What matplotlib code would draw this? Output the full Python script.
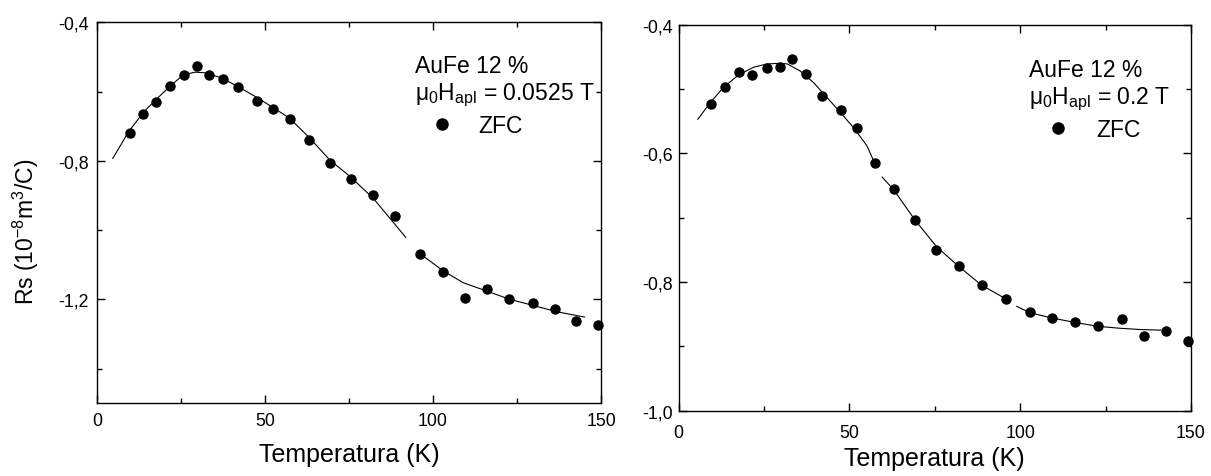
import matplotlib
matplotlib.use("Agg")
import matplotlib.pyplot as plt
from matplotlib.ticker import FixedLocator, FuncFormatter
from matplotlib.lines import Line2D

plt.rcParams['font.family'] = ['Liberation Sans', 'DejaVu Sans']
plt.rcParams['mathtext.fontset'] = 'custom'
plt.rcParams['mathtext.rm'] = 'Liberation Sans'
plt.rcParams['mathtext.it'] = 'Liberation Sans'
plt.rcParams['mathtext.bf'] = 'Liberation Sans:bold'

# ---------------- data: left panel (0.0525 T) ----------------
left_T = [9.7, 13.8, 17.7, 21.7, 25.9, 29.7, 33.3, 37.4, 42.0, 47.5, 52.3, 57.5, 63.2,
          69.4, 75.5, 82.0, 88.7, 96.1, 102.9, 109.4, 116.1, 122.7, 129.8, 136.2, 142.7, 149.1]
left_Rs = [-0.720, -0.666, -0.630, -0.585, -0.553, -0.527, -0.551, -0.564, -0.587, -0.628,
           -0.649, -0.678, -0.739, -0.806, -0.852, -0.900, -0.960, -1.070, -1.122, -1.196,
           -1.170, -1.200, -1.211, -1.229, -1.261, -1.275]
left_fit1_T = [4.7, 9.4, 13.9, 17.9, 21.8, 25.3, 27.3, 29.3, 32.2, 37.2, 42.2, 48.1, 55.1,
               57.4, 63.4, 69.3, 75.3, 82.2, 91.9]
left_fit1_Rs = [-0.793, -0.716, -0.659, -0.620, -0.584, -0.555, -0.548, -0.544, -0.546, -0.561,
                -0.587, -0.620, -0.663, -0.678, -0.735, -0.798, -0.845, -0.908, -1.021]
left_fit2_T = [96.1, 103.1, 109.0, 116.0, 122.9, 130.0, 137.0, 145.1]
left_fit2_Rs = [-1.068, -1.118, -1.152, -1.176, -1.200, -1.218, -1.236, -1.251]

# ---------------- data: right panel (0.2 T) ----------------
right_T = [9.5, 13.6, 17.6, 21.6, 25.8, 29.7, 33.3, 37.4, 41.9, 47.4, 52.3, 57.4, 63.1,
           69.2, 75.5, 82.1, 88.8, 96.0, 103.0, 109.3, 116.0, 122.7, 129.8, 136.2, 142.7, 149.2]
right_Rs = [-0.523, -0.497, -0.474, -0.478, -0.468, -0.466, -0.453, -0.477, -0.511, -0.532,
            -0.561, -0.615, -0.656, -0.703, -0.750, -0.776, -0.805, -0.827, -0.847, -0.856,
            -0.862, -0.868, -0.857, -0.884, -0.877, -0.892]
right_fit1_T = [5.6, 9.3, 13.2, 17.6, 22.0, 25.9, 29.8, 31.8, 35.6, 39.5, 43.4, 47.3, 51.2,
                55.1, 57.4]
right_fit1_Rs = [-0.547, -0.521, -0.497, -0.478, -0.466, -0.461, -0.460, -0.461, -0.472,
                 -0.490, -0.513, -0.536, -0.560, -0.588, -0.615]
right_fit2_T = [59.6, 63.0, 69.1, 75.5, 81.8, 88.7, 96.0]
right_fit2_Rs = [-0.637, -0.657, -0.703, -0.745, -0.775, -0.805, -0.827]
right_fit3_T = [99.0, 102.9, 109.2, 116.0, 122.7, 129.0, 135.0, 141.2]
right_fit3_Rs = [-0.838, -0.848, -0.856, -0.863, -0.869, -0.872, -0.874, -0.875]

x_major = [0, 50, 100, 150]
x_minor = [25, 75, 125]
left_y_major = [-0.4, -0.8, -1.2]
left_y_minor = [-0.6, -1.0, -1.4]
right_y_major = [-0.4, -0.6, -0.8, -1.0]
right_y_minor = [-0.5, -0.7, -0.9]

xlabel = 'Temperatura (K)'
ylabel = r'Rs (10$^{-8}$m$^{3}$/C)'
title_line = 'AuFe 12 %'
left_field = r'$\mathrm{\mu_0H_{apl}}$ = 0.0525 T'
right_field = r'$\mathrm{\mu_0H_{apl}}$ = 0.2 T'
legend_label = 'ZFC'

fig = plt.figure(figsize=(12.11, 4.77), dpi=100)
axL = fig.add_axes([0.0801, 0.1524, 0.4162, 0.7988])
axR = fig.add_axes([0.5604, 0.1373, 0.4230, 0.8088])

comma = FuncFormatter(lambda v, p: ('%.1f' % v).replace('.', ','))


def style(ax, ymaj, ymin, ylim, xpad, ypad, lpad):
    ax.set_xlim(0, 150)
    ax.set_ylim(*ylim)
    ax.xaxis.set_major_locator(FixedLocator(x_major))
    ax.xaxis.set_minor_locator(FixedLocator(x_minor))
    ax.yaxis.set_major_locator(FixedLocator(ymaj))
    ax.yaxis.set_minor_locator(FixedLocator(ymin))
    ax.yaxis.set_major_formatter(comma)
    ax.tick_params(which='both', direction='in', top=True, right=True, width=1.0,
                   labelsize=12.8, colors='black')
    ax.tick_params(which='major', length=5.5)
    ax.tick_params(which='minor', length=3.5)
    ax.tick_params(axis='x', which='major', pad=xpad)
    ax.tick_params(axis='y', which='major', pad=ypad)
    for s in ax.spines.values():
        s.set_linewidth(1.0)
    ax.set_xlabel(xlabel, fontsize=18, labelpad=lpad)


# Left panel
axL.plot(left_fit1_T, left_fit1_Rs, color='black', lw=0.8)
axL.plot(left_fit2_T, left_fit2_Rs, color='black', lw=0.8)
axL.plot(left_T, left_Rs, 'o', color='black', ms=6.5, clip_on=False, zorder=3)
style(axL, left_y_major, left_y_minor, (-1.5, -0.4), 6.5, 6, 9)
axL.set_ylabel(ylabel, fontsize=16.5, labelpad=12)
axL.yaxis.label.set_y(0.4535)
axL.text(0.631, 0.886, title_line, transform=axL.transAxes, fontsize=16.5, va='center', ha='left')
axL.text(0.631, 0.812, left_field, transform=axL.transAxes, fontsize=16.5, va='center', ha='left')
h = Line2D([], [], marker='o', ls='none', color='black', ms=8)
axL.legend([h], [legend_label], loc='center left', bbox_to_anchor=(0.668, 0.729),
           frameon=False, fontsize=16.5, handlelength=0.75, handletextpad=1.2,
           borderpad=0, borderaxespad=0, numpoints=1)

# Right panel
axR.plot(right_fit1_T, right_fit1_Rs, color='black', lw=0.8)
axR.plot(right_fit2_T, right_fit2_Rs, color='black', lw=0.8)
axR.plot(right_fit3_T, right_fit3_Rs, color='black', lw=0.8)
axR.plot(right_T, right_Rs, 'o', color='black', ms=6.5, clip_on=False, zorder=3)
style(axR, right_y_major, right_y_minor, (-1.0, -0.4), 10, 4, 3.5)
axR.text(0.684, 0.883, title_line, transform=axR.transAxes, fontsize=16.5, va='center', ha='left')
axR.text(0.684, 0.810, right_field, transform=axR.transAxes, fontsize=16.5, va='center', ha='left')
axR.legend([h], [legend_label], loc='center left', bbox_to_anchor=(0.724, 0.728),
           frameon=False, fontsize=16.5, handlelength=0.75, handletextpad=1.3,
           borderpad=0, borderaxespad=0, numpoints=1)

fig.savefig('out.png', dpi=100)
